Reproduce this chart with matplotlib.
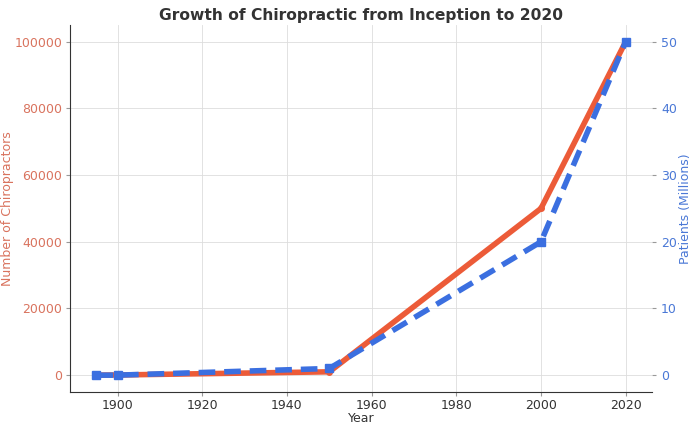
import matplotlib.pyplot as plt

years = [1895, 1900, 1950, 2000, 2020]
chiropractors = [0, 50, 1000, 50000, 100000]
patients_millions = [0, 0, 1, 20, 50]

ORANGE = "#EC5B38"
BLUE = "#3B6FE0"


def main():
    fig, ax1 = plt.subplots(figsize=(6.93, 4.32), dpi=100)
    fig.subplots_adjust(left=0.101, right=0.941, top=0.942, bottom=0.093)

    ax1.plot(years, chiropractors, color=ORANGE, linewidth=4, marker="o",
             markersize=4, zorder=3)
    ax1.set_xlabel("Year", fontsize=9, color="#333333", labelpad=0)
    ax1.set_ylabel("Number of Chiropractors", color="#D9735E", fontsize=9)
    ax1.yaxis.set_label_coords(-0.097, 0.5)
    ax1.tick_params(axis="y", colors="#D9735E", labelsize=9, length=3, pad=2.5)
    ax1.tick_params(axis="x", colors="#333333", labelsize=9, length=3, pad=2)
    ax1.tick_params(axis="y", color="#999999")
    ax1.tick_params(axis="x", color="#999999")
    ax1.grid(True, color="#dddddd", linewidth=0.6)
    ax1.set_axisbelow(True)
    ax1.set_xticks([1900, 1920, 1940, 1960, 1980, 2000, 2020])
    for side in ["top", "right"]:
        ax1.spines[side].set_visible(False)
    for side in ["left", "bottom"]:
        ax1.spines[side].set_color("#333333")

    ax2 = ax1.twinx()
    ax2.plot(years, patients_millions, color=BLUE, linewidth=4, linestyle="--",
             dashes=(3, 1.6), marker="s", markersize=6, zorder=4)
    ax2.set_ylabel("Patients (Millions)", color="#4A78D6", fontsize=9)
    ax2.yaxis.set_label_coords(1.046, 0.5)
    ax2.tick_params(axis="y", colors="#4A78D6", labelsize=9, length=3)
    ax2.tick_params(axis="y", color="#999999")
    for side in ["top", "right", "left", "bottom"]:
        ax2.spines[side].set_visible(False)

    ax1.set_title("Growth of Chiropractic from Inception to 2020",
                  fontsize=11.2, fontweight="bold", color="#333333", pad=4)

    fig.savefig("out.png", dpi=100)
    plt.close(fig)


if __name__ == "__main__":
    main()
